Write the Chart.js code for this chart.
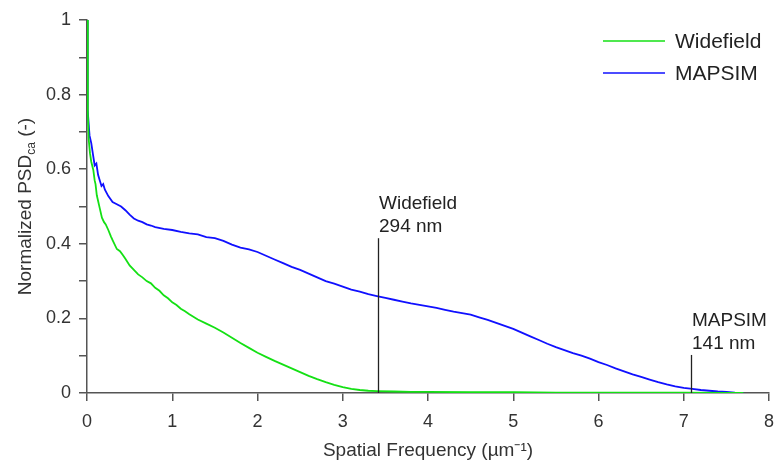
<!DOCTYPE html>
<html>
<head>
<meta charset="utf-8">
<script src="https://cdn.jsdelivr.net/npm/chart.js@4/dist/chart.umd.min.js"></script>
<style>
html,body{margin:0;padding:0;background:#fff;}
#wrap{width:780px;height:470px;}
</style>
</head>
<body>
<div id="wrap"><canvas id="c" width="780" height="470"></canvas></div>
<script>
// ---- data ----
const seriesNames = ["Widefield", "MAPSIM"];
const seriesColors = ["#14e014", "#1010ff"];

const freqWidefield = [0, 0.01, 0.02, 0.035, 0.05, 0.074, 0.09, 0.10, 0.115, 0.125, 0.14, 0.15, 0.175, 0.20, 0.22, 0.25, 0.28, 0.30, 0.35, 0.387, 0.42, 0.45, 0.50, 0.55, 0.60, 0.65, 0.70, 0.75, 0.80, 0.85, 0.90, 0.95, 1.00, 1.05, 1.10, 1.15, 1.20, 1.30, 1.40, 1.50, 1.60, 1.70, 1.80, 1.90, 2.00, 2.10, 2.20, 2.30, 2.40, 2.50, 2.60, 2.70, 2.80, 2.90, 3.00, 3.10, 3.20, 3.30, 3.40, 3.60, 3.80, 4.00, 4.50, 5.00, 5.50, 6.00, 6.50, 7.00, 7.50, 7.70];
const psdWidefield  = [1.0, 0.75, 0.68, 0.643, 0.62, 0.598, 0.57, 0.56, 0.53, 0.52, 0.505, 0.495, 0.47, 0.458, 0.452, 0.437, 0.42, 0.41, 0.386, 0.38, 0.37, 0.36, 0.342, 0.33, 0.318, 0.31, 0.300, 0.294, 0.282, 0.274, 0.262, 0.254, 0.243, 0.236, 0.226, 0.219, 0.211, 0.197, 0.186, 0.175, 0.162, 0.148, 0.134, 0.121, 0.108, 0.097, 0.086, 0.076, 0.066, 0.056, 0.046, 0.037, 0.029, 0.022, 0.016, 0.011, 0.008, 0.006, 0.005, 0.004, 0.003, 0.003, 0.002, 0.002, 0.001, 0.001, 0.001, 0.001, 0.0, 0.0];

const freqMapsim = [0, 0.005, 0.01, 0.02, 0.03, 0.05, 0.07, 0.09, 0.11, 0.13, 0.15, 0.17, 0.19, 0.21, 0.25, 0.30, 0.35, 0.40, 0.45, 0.50, 0.55, 0.60, 0.65, 0.70, 0.75, 0.80, 0.90, 1.00, 1.10, 1.20, 1.30, 1.40, 1.50, 1.60, 1.70, 1.80, 1.90, 2.00, 2.10, 2.20, 2.30, 2.40, 2.50, 2.60, 2.70, 2.80, 2.90, 3.00, 3.10, 3.20, 3.30, 3.40, 3.50, 3.60, 3.70, 3.80, 3.90, 4.00, 4.10, 4.20, 4.30, 4.40, 4.50, 4.60, 4.70, 4.80, 4.90, 5.00, 5.10, 5.20, 5.30, 5.40, 5.50, 5.60, 5.70, 5.80, 5.90, 6.00, 6.10, 6.20, 6.30, 6.40, 6.50, 6.60, 6.70, 6.80, 6.90, 7.00, 7.10, 7.20, 7.30, 7.40, 7.50, 7.60, 7.70];
const psdMapsim  = [1.0, 0.81, 0.76, 0.72, 0.69, 0.67, 0.64, 0.61, 0.615, 0.585, 0.57, 0.555, 0.56, 0.545, 0.528, 0.512, 0.506, 0.50, 0.49, 0.478, 0.468, 0.462, 0.458, 0.452, 0.449, 0.445, 0.440, 0.437, 0.432, 0.428, 0.425, 0.418, 0.415, 0.408, 0.398, 0.390, 0.385, 0.378, 0.368, 0.358, 0.348, 0.338, 0.330, 0.320, 0.310, 0.300, 0.293, 0.285, 0.277, 0.272, 0.265, 0.260, 0.255, 0.250, 0.245, 0.240, 0.236, 0.232, 0.228, 0.223, 0.218, 0.214, 0.210, 0.203, 0.196, 0.188, 0.180, 0.172, 0.162, 0.152, 0.142, 0.132, 0.123, 0.115, 0.107, 0.100, 0.092, 0.083, 0.075, 0.066, 0.058, 0.050, 0.043, 0.036, 0.029, 0.023, 0.018, 0.014, 0.011, 0.008, 0.006, 0.004, 0.003, 0.001, 0.0];

// resolution markers
const markerLabels = [["Widefield", "294 nm"], ["MAPSIM", "141 nm"]];
const markerFreq = [3.41, 7.09];
const markerTop = [0.415, 0.102];

const xTickValues = [0, 1, 2, 3, 4, 5, 6, 7, 8];
const yTickLabels = ["0", "0.2", "0.4", "0.6", "0.8", "1"];

// ---- rendering ----
const FONT = "'Liberation Sans', Arial, sans-serif";
const AXIS = "#555555";
const TEXT = "#333333";

function pts(xs, ys){ return xs.map((x,i)=>({x:x, y:ys[i]})); }

const markerPlugin = {
  id: 'markers',
  afterDatasetsDraw(chart){
    const {ctx, scales:{x, y}} = chart;
    ctx.save();
    for (let i = 0; i < markerFreq.length; i++){
      const px = Math.round(x.getPixelForValue(markerFreq[i])) + 0.5;
      const pTop = y.getPixelForValue(markerTop[i]);
      const pBot = y.getPixelForValue(0);
      ctx.strokeStyle = "#222";
      ctx.lineWidth = 1.3;
      ctx.beginPath(); ctx.moveTo(px, pTop); ctx.lineTo(px, pBot); ctx.stroke();
      ctx.fillStyle = "#222";
      ctx.font = "19px " + FONT;
      ctx.textAlign = "left";
      ctx.textBaseline = "alphabetic";
      ctx.fillText(markerLabels[i][1], px + 0.5, pTop - 6);
      ctx.fillText(markerLabels[i][0], px + 0.5, pTop - 29);
    }
    ctx.restore();
  }
};

const legendPlugin = {
  id: 'customLegend',
  afterDraw(chart){
    const {ctx} = chart;
    ctx.save();
    const ys = [41, 73];
    for (let i = 0; i < seriesNames.length; i++){
      ctx.strokeStyle = seriesColors[i];
      ctx.lineWidth = 1.5;
      ctx.beginPath(); ctx.moveTo(603, ys[i]); ctx.lineTo(665, ys[i]); ctx.stroke();
      ctx.fillStyle = "#222";
      ctx.font = "21px " + FONT;
      ctx.textAlign = "left";
      ctx.textBaseline = "middle";
      ctx.fillText(seriesNames[i], 675, ys[i] + 1);
    }
    ctx.restore();
  }
};

const yTitlePlugin = {
  id: 'yTitle',
  afterDraw(chart){
    const {ctx, chartArea} = chart;
    const cy = (chartArea.top + chartArea.bottom) / 2;
    ctx.save();
    ctx.translate(31, cy);
    ctx.rotate(-Math.PI/2);
    ctx.fillStyle = TEXT;
    ctx.textBaseline = "alphabetic";
    ctx.textAlign = "left";
    const big = "19px " + FONT, small = "12px " + FONT;
    const p1 = "Normalized PSD", p2 = "ca", p3 = " (-)";
    ctx.font = big; const w1 = ctx.measureText(p1).width, w3 = ctx.measureText(p3).width;
    ctx.font = small; const w2 = ctx.measureText(p2).width;
    let x0 = -(w1 + w2 + w3) / 2;
    ctx.font = big; ctx.fillText(p1, x0, 0);
    ctx.font = small; ctx.fillText(p2, x0 + w1, 4);
    ctx.font = big; ctx.fillText(p3, x0 + w1 + w2, 0);
    ctx.restore();
  }
};

new Chart(document.getElementById('c'), {
  type: 'line',
  data: {
    datasets: [
      { label: seriesNames[0], data: pts(freqWidefield, psdWidefield), borderColor: seriesColors[0], borderWidth: 1.8, pointRadius: 0, tension: 0, fill: false },
      { label: seriesNames[1], data: pts(freqMapsim, psdMapsim), borderColor: seriesColors[1], borderWidth: 1.8, pointRadius: 0, tension: 0, fill: false }
    ]
  },
  options: {
    responsive: false,
    animation: false,
    devicePixelRatio: 1,
    layout: { padding: { top: 20, right: 11, left: 0, bottom: 0 } },
    plugins: { legend: { display: false }, tooltip: { enabled: false } },
    scales: {
      x: {
        type: 'linear', min: 0, max: 8,
        afterBuildTicks(s){ s.ticks = xTickValues.map(v => ({value: v})); },
        afterFit(s){ s.height = 77; s.paddingRight = 0; s.paddingLeft = 0; },
        ticks: { color: TEXT, font: { family: FONT, size: 18 }, padding: 10, maxRotation: 0,
                 callback: v => String(v) },
        grid: { drawOnChartArea: false, drawTicks: true, tickLength: 8, color: AXIS, lineWidth: 1.5 },
        border: { display: true, color: AXIS, width: 1.5 },
        title: { display: true, text: "Spatial Frequency (µm⁻¹)", color: TEXT, font: { family: FONT, size: 19 }, padding: { top: 0, bottom: 8 } }
      },
      y: {
        type: 'linear', min: 0, max: 1,
        afterBuildTicks(s){ const t = []; for (let i = 0; i <= 10; i++) t.push({value: i / 10}); s.ticks = t; },
        afterFit(s){ s.width = 87; s.paddingTop = 0; s.paddingBottom = 0; },
        ticks: { color: TEXT, font: { family: FONT, size: 18 }, padding: 8,
                 callback: (v) => { const k = Math.round(v * 10); return k % 2 === 0 ? yTickLabels[k / 2] : ''; } },
        grid: { drawOnChartArea: false, drawTicks: true, tickLength: 8, color: AXIS, lineWidth: 1.5 },
        border: { display: true, color: AXIS, width: 1.5 }
      }
    }
  },
  plugins: [markerPlugin, legendPlugin, yTitlePlugin]
});
</script>
</body>
</html>
